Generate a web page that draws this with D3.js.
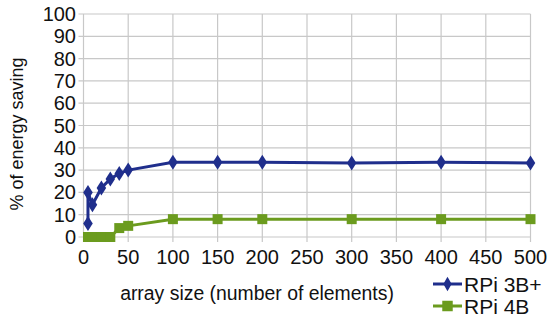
<!DOCTYPE html>
<meta charset="utf-8">
<style>
body { margin: 0; background: #fff; }
text { font-family: "Liberation Sans", Arial, sans-serif; }
</style>
<svg width="550" height="321"></svg>
<script src="https://d3js.org/d3.v7.min.js"></script>
<script>

var sizes = [5, 5, 10, 20, 30, 40, 50, 100, 150, 200, 300, 400, 500];
var rpi3 = [6, 20, 14.5, 22, 26, 28.5, 30, 33.5, 33.5, 33.5, 33.2, 33.5, 33.2];
var rpi4 = [0, 0, 0, 0, 0, 4, 5, 8, 8, 8, 8, 8, 8];
var xTicks = [0, 50, 100, 150, 200, 250, 300, 350, 400, 450, 500];
var yTicks = [0, 10, 20, 30, 40, 50, 60, 70, 80, 90, 100];

var svg = d3.select("svg");

var x = d3.scaleLinear().domain([0, 500]).range([83.5, 530.5]);
var y = d3.scaleLinear().domain([0, 100]).range([237, 14]);

// grid
svg.append("g").selectAll("line")
  .data(xTicks).enter().append("line")
    .attr("x1", d => x(d)).attr("x2", d => x(d))
    .attr("y1", y(100)).attr("y2", y(0) + 5)
    .attr("stroke", "#c8c8c8").attr("stroke-width", 1.2);

svg.append("g").selectAll("line")
  .data(yTicks).enter().append("line")
    .attr("x1", x(0) - 5).attr("x2", x(500))
    .attr("y1", d => y(d)).attr("y2", d => y(d))
    .attr("stroke", "#c8c8c8").attr("stroke-width", 1.2);

// tick labels
svg.append("g").selectAll("text")
  .data(yTicks).enter().append("text")
    .attr("x", 76).attr("y", d => y(d) + 7)
    .attr("text-anchor", "end")
    .attr("font-size", 20).attr("fill", "#111")
    .text(d => d);

svg.append("g").selectAll("text")
  .data(xTicks).enter().append("text")
    .attr("x", d => x(d)).attr("y", 264)
    .attr("text-anchor", "middle")
    .attr("font-size", 20).attr("fill", "#111")
    .text(d => d);

// axis titles
svg.append("text")
  .attr("x", 257).attr("y", 300)
  .attr("text-anchor", "middle")
  .attr("font-size", 19.4).attr("fill", "#111")
  .text("array size (number of elements)");

svg.append("text")
  .attr("transform", "translate(23,134) rotate(-90)")
  .attr("text-anchor", "middle")
  .attr("font-size", 18).attr("fill", "#111")
  .text("% of energy saving");

var series = [
  {name: "RPi 3B+", values: rpi3, color: "#1f2e8c", shape: d3.symbolDiamond},
  {name: "RPi 4B", values: rpi4, color: "#6b9b1e", shape: d3.symbolSquare}
];

var line = d3.line().x(d => x(d[0])).y(d => y(d[1]));

series.slice().reverse().forEach(function(s) {
  var pts = sizes.map((v, i) => [v, s.values[i]]);
  var g = svg.append("g");
  g.append("path")
    .attr("d", line(pts))
    .attr("fill", "none")
    .attr("stroke", s.color)
    .attr("stroke-width", 3);
  g.selectAll("path.m").data(pts).enter().append("path")
    .attr("class", "m")
    .attr("transform", d => "translate(" + x(d[0]) + "," + y(d[1]) + ")" + (s.shape === d3.symbolDiamond ? " scale(1.1,1)" : ""))
    .attr("d", d3.symbol().type(s.shape).size(s.shape === d3.symbolDiamond ? 65 : 100))
    .attr("fill", s.color);
});

// legend
var lg = svg.append("g");
series.forEach(function(s, i) {
  var yy = 284 + i * 22;
  lg.append("line")
    .attr("x1", 433).attr("x2", 462)
    .attr("y1", yy).attr("y2", yy)
    .attr("stroke", s.color).attr("stroke-width", 3);
  lg.append("path")
    .attr("transform", "translate(447.5," + yy + ")")
    .attr("d", d3.symbol().type(s.shape).size(s.shape === d3.symbolDiamond ? 60 : 110))
    .attr("fill", s.color);
  lg.append("text")
    .attr("x", 464).attr("y", yy + 7.5)
    .attr("font-size", 21).attr("fill", "#111")
    .text(s.name);
});

</script>
